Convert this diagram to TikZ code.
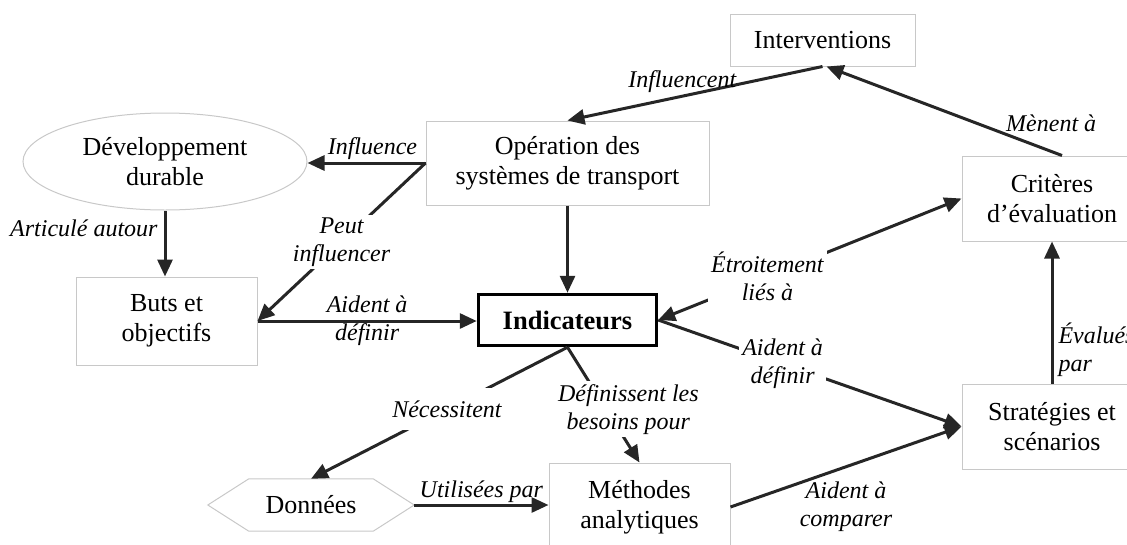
\documentclass[tikz,border=0pt]{standalone}
\usepackage{fontspec}
\setmainfont{Liberation Serif}
\usetikzlibrary{arrows.meta,shapes.geometric}
\definecolor{edgegray}{RGB}{38,38,38}
\definecolor{framegray}{RGB}{200,200,200}
\tikzset{
  concept/.style={draw=framegray, line width=1pt, align=center, inner sep=0pt,
    font=\fontsize{26}{30}\selectfont},
  link/.style={draw=edgegray, line width=3pt, ->},
  lbl/.style={font=\fontsize{24}{28}\itshape\selectfont, align=center, inner sep=2pt},
  gaplbl/.style={lbl, fill=white, inner sep=3pt},
}
\begin{document}
\begin{tikzpicture}[x=1pt, y=-1pt, >={Triangle[length=17pt,width=15pt]}]
\useasboundingbox (0,0) rectangle (1127,544);

% concepts
\node[concept, minimum width=185pt, minimum height=52pt] (interv) at (822.5,40) {Interventions};
\node[concept, minimum width=283pt, minimum height=84pt] (oper) at (567.5,163) {Opération des\\systèmes de transport};
\node[concept, ellipse, minimum width=284pt, minimum height=97pt] (dev) at (165,161.5) {Développement\\durable};
\node[concept, minimum width=181pt, minimum height=88pt] (buts) at (166.5,321) {Buts et\\objectifs};
\node[draw=black, line width=3.5pt, minimum width=178pt, minimum height=51pt, inner sep=0pt,
      font=\fontsize{26.5}{30}\bfseries\selectfont] (ind) at (567.5,320) {Indicateurs};
\node[concept, minimum width=180pt, minimum height=85pt] (crit) at (1052,198.5) {Critères\\d’évaluation};
\node[concept, minimum width=180pt, minimum height=85pt] (strat) at (1052,426.5) {Stratégies et\\scénarios};
\node[concept, minimum width=181pt, minimum height=88pt] (meth) at (639.5,507) {Méthodes\\analytiques};
\node[minimum width=206pt, minimum height=52pt, inner sep=0pt,
      font=\fontsize{26}{30}\selectfont] (donnees) at (311,505) {Données};
\draw[framegray, line width=1pt] (donnees.west) -- ([xshift=41pt]donnees.north west)
  -- ([xshift=-41pt]donnees.north east) -- (donnees.east)
  -- ([xshift=-41pt]donnees.south east) -- ([xshift=41pt]donnees.south west) -- cycle;

% relations
\draw[link] (interv.south) -- node[lbl, above, pos=0.55] {Influencent} (oper.north);
\draw[link] ([xshift=10pt]crit.north) -- node[lbl, pos=0.36, xshift=74pt] {Mènent à} ([xshift=4pt]interv.south);
\draw[link] (oper.west) -- node[lbl, above, pos=0.45] {Influence} (oper.west -| dev.east);
\draw[link] (oper.west) -- node[gaplbl, pos=0.5] {Peut\\influencer} (buts.east);
\draw[link] (dev.south) -- node[lbl, left=4pt, pos=0.27] {Articulé autour} (dev.south |- buts.north);
\draw[link] (buts.east) -- node[lbl] {Aident à\\définir} (buts.east -| ind.west);
\draw[link] (oper.south) -- (ind.north);
\draw[link, <->] (ind.east) -- node[gaplbl, pos=0.36] {Étroitement\\liés à} (crit.west);
\draw[link] (ind.east) -- node[gaplbl, pos=0.41] {Aident à\\définir} (strat.west);
\draw[link] (ind.south) -- node[gaplbl, pos=0.47, minimum height=42pt] {Nécessitent} (donnees.north);
\draw[link] (ind.south) -- node[gaplbl, pos=0.54, xshift=22pt] {Définissent les\\besoins pour} (meth.north);
\draw[link] (donnees.east) -- node[lbl, above, inner sep=1pt] {Utilisées par} (donnees.east -| meth.west);
\draw[link] (meth.east) -- node[lbl, below=12pt, pos=0.5] {Aident à\\comparer} (strat.west);
\draw[link] (strat.north) -- node[lbl, right=3pt, pos=0.24, align=left] {Évalués\\par} (crit.south);
\end{tikzpicture}
\end{document}
